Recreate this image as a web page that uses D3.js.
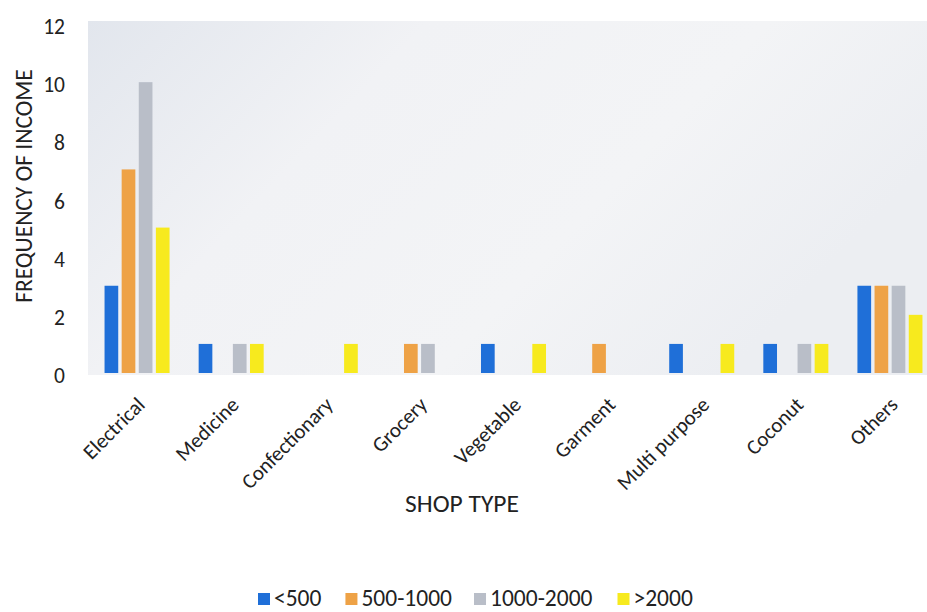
<!DOCTYPE html>
<html><head><meta charset="utf-8">
<script src="https://cdn.jsdelivr.net/npm/d3@7"></script>
<style>body{margin:0;background:#fff}svg{display:block;font-family:Carlito,Lato,"Open Sans",sans-serif}</style>
</head><body><svg id="c" width="927" height="612"></svg>
<script>
const categories = ["Electrical","Medicine","Confectionary","Grocery","Vegetable","Garment","Multi purpose","Coconut","Others"];
const seriesNames = ["<500","500-1000","1000-2000",">2000"];
const seriesColors = ["#1f6fd8","#eea246","#b9bec8","#f7ea1e"];
const s_lt500 = [3,1,0,0,1,0,1,1,3];
const s_500_1000 = [7,0,0,1,0,1,0,0,3];
const s_1000_2000 = [10,1,0,1,0,0,0,1,3];
const s_gt2000 = [5,1,1,0,1,0,1,1,2];
const yTicks = [0,2,4,6,8,10,12];
const seriesValues = [s_lt500, s_500_1000, s_1000_2000, s_gt2000];

const FONT = "Carlito, Lato, sans-serif";
const svg = d3.select("#c");
const m = {l:90, r:937, t:24, b:373};
const x = d3.scaleBand().domain(categories).range([m.l, m.r]).paddingInner(0).paddingOuter(0);
const x1 = d3.scaleBand().domain(seriesNames).range([0, x.bandwidth()]).paddingInner(0.2).paddingOuter(0.85);
const y = d3.scaleLinear().domain([0,12]).range([m.b, m.t]);

const defs = svg.append("defs");
const g = defs.append("linearGradient").attr("id","bg").attr("x1","0").attr("y1","0").attr("x2","1").attr("y2","0.4");
g.append("stop").attr("offset","0").attr("stop-color","#e2e6ed");
g.append("stop").attr("offset","0.35").attr("stop-color","#f1f2f5");
g.append("stop").attr("offset","0.7").attr("stop-color","#f3f4f6");
g.append("stop").attr("offset","1").attr("stop-color","#eceef2");
svg.append("rect").attr("x", m.l - 2).attr("y", m.t - 3).attr("width", 927 - m.l + 2).attr("height", m.b - m.t + 5).attr("fill","url(#bg)");

const groups = svg.append("g").selectAll("g").data(categories).join("g")
  .attr("transform", d => `translate(${x(d)},0)`);
groups.selectAll("rect").data((d,i) => seriesNames.map((s,k) => ({s, k, v: seriesValues[k][i]})))
  .join("rect")
  .attr("x", d => x1(d.s)).attr("width", x1.bandwidth())
  .attr("y", d => y(d.v)).attr("height", d => y(0) - y(d.v))
  .attr("fill", d => seriesColors[d.k]);

const yAxis = svg.append("g").attr("transform", `translate(${m.l - 25},2)`)
  .call(d3.axisLeft(y).tickValues(yTicks).tickSize(0).tickPadding(0));
yAxis.select(".domain").remove();
yAxis.selectAll("text").attr("font-size", 21.5).attr("fill", "#222").attr("font-family", FONT).attr("dy","0.35em");

const xAxis = svg.append("g").attr("transform", `translate(0,${m.b})`)
  .call(d3.axisBottom(x).tickSize(0).tickPadding(0));
xAxis.select(".domain").remove();
xAxis.selectAll("text")
  .attr("font-size", 21).attr("fill","#222").attr("font-family", FONT)
  .attr("text-anchor","end").attr("dy","0")
  .attr("transform","translate(9,33) rotate(-45)");

svg.append("text").attr("transform","translate(32,186) rotate(-90)").attr("text-anchor","middle")
  .attr("font-size",23.5).attr("fill","#222").text("FREQUENCY OF INCOME");
svg.append("text").attr("x",462).attr("y",512).attr("text-anchor","middle")
  .attr("font-size",25.5).attr("fill","#222").text("SHOP TYPE");

// legend laid out sequentially from measured text widths
const leg = svg.append("g").attr("transform","translate(258,606)");
let cx = 0;
const gaps = [24, 22, 25, 0];
seriesNames.forEach((s,i) => {
  const it = leg.append("g").attr("transform", `translate(${cx},0)`);
  it.append("rect").attr("x",0).attr("y",-13).attr("width",12).attr("height",12).attr("fill",seriesColors[i]);
  const t = it.append("text").attr("x",16).attr("y",0).attr("font-size",23.5).attr("fill","#222").text(s);
  cx += 16 + t.node().getComputedTextLength() + gaps[i];
});
</script></body></html>
